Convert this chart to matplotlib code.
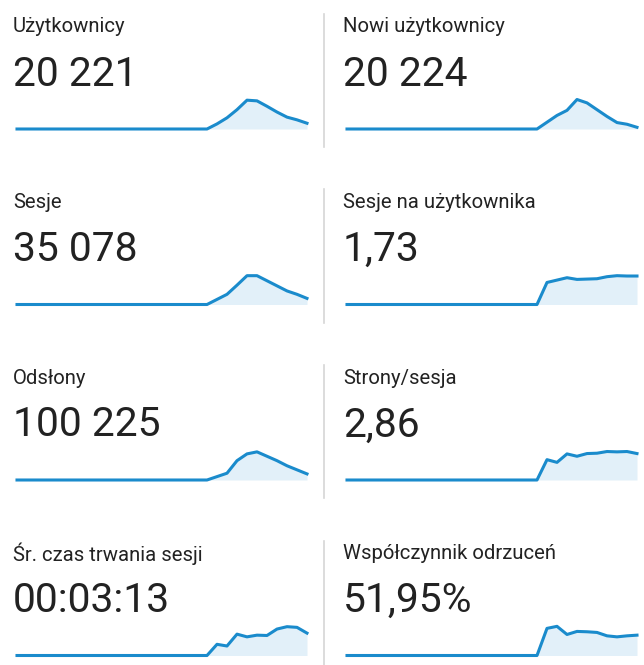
import matplotlib
matplotlib.use('Agg')
import matplotlib.pyplot as plt
import numpy as np

plt.rcParams['font.family'] = ['Roboto', 'DejaVu Sans']

W, H = 644, 665

# nazvy metrik a hodnoty
nazvy = ['Użytkownicy', 'Nowi użytkownicy', 'Sesje', 'Sesje na użytkownika',
         'Odsłony', 'Strony/sesja', 'Śr. czas trwania sesji', 'Współczynnik odrzuceń']
hodnoty = ['20 221', '20 224', '35 078', '1,73', '100 225', '2,86', '00:03:13', '51,95%']

# trend - prvnich 20 dni nulove, pak 10 dni dat
nuly = [0] * 20
uzivatele = nuly + [15, 33, 57, 85, 83, 67, 50, 35, 27, 17]
novi = nuly + [20, 40, 55, 87, 77, 57, 37, 19, 14, 5]
sesje = nuly + [15, 30, 57, 85, 85, 70, 55, 40, 30, 18]
sesje_na_uziv = nuly + [65, 72, 79, 74, 75, 76, 82, 85, 84, 84]
odslony = nuly + [10, 20, 57, 77, 83, 70, 57, 42, 30, 18]
strony = nuly + [60, 52, 77, 70, 78, 79, 84, 83, 84, 78]
cas = nuly + [33, 28, 63, 55, 60, 59, 78, 85, 83, 66]
odrazeni = nuly + [80, 86, 62, 71, 70, 68, 58, 55, 58, 60]
trendy = [uzivatele, novi, sesje, sesje_na_uziv, odslony, strony, cas, odrazeni]

fig = plt.figure(figsize=(W / 100, H / 100), dpi=100)
fig.patch.set_facecolor('white')

barva = '#1a8bcc'
vypln = '#e2f0f9'

for i in range(8):
    radek, sloupec = i // 2, i % 2
    x0 = 13 + sloupec * 330
    y0 = radek * 175.5
    fig.text(x0 / W, 1 - (y0 + 27) / H, nazvy[i], fontsize=14.6, color='#222222',
             va='center', ha='left')
    fig.text(x0 / W, 1 - (y0 + 74) / H, hodnoty[i], fontsize=29.3, color='#222222',
             va='center', ha='left')

    ax = fig.add_axes([(x0 + 4) / W, 1 - (y0 + 129) / H, 290 / W, 29.5 / H])
    y = np.array(trendy[i], dtype=float)
    x = np.arange(len(y))
    ax.fill_between(x, 0, y, color=vypln, linewidth=0)
    ax.plot(x, y, color=barva, linewidth=2.2, solid_joinstyle='round', clip_on=False)
    ax.set_xlim(0, len(y) - 1)
    ax.set_ylim(0, 87)
    ax.axis('off')

    # svisla deliciho cara
    if sloupec == 0:
        fig.add_artist(plt.Line2D([324 / W, 324 / W], [1 - (y0 + 14) / H, 1 - (y0 + 147) / H],
                                  color='#d6d6d6', linewidth=1.2))

fig.savefig('out.png', dpi=100, facecolor='white')
